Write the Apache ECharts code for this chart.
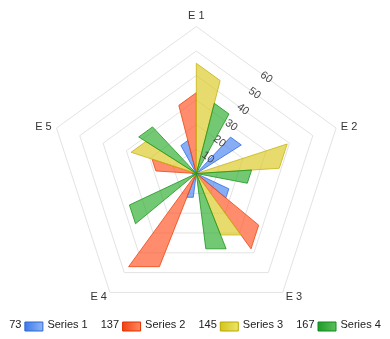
<!DOCTYPE html>
<html>
<head>
<meta charset="utf-8">
<script src="https://cdn.jsdelivr.net/npm/echarts@6/dist/echarts.min.js"></script>
<style>
  html, body { margin: 0; padding: 0; background: #fff; }
  #chart { width: 390px; height: 339px; }
</style>
</head>
<body>
<div id="chart"></div>
<script>
// Categories around the pentagon (clockwise from the top)
const categories = ['E 1', 'E 2', 'E 3', 'E 4', 'E 5'];
const seriesNames = ['Series 1', 'Series 2', 'Series 3', 'Series 4'];

// Values per category
const series1 = [16, 25, 18, 12, 2];
const series2 = [33, 0, 38, 47, 19];
const series3 = [45, 39, 31, 2, 28];
const series4 = [34, 26, 38, 37, 32];
const seriesValues = [series1, series2, series3, series4];

// Radial scale
const radiusMin = 0;
const radiusMax = 60;
const radiusStep = 10;

const fills = ['rgba(70,130,240,0.65)', 'rgba(255,80,30,0.65)', 'rgba(220,200,30,0.65)', 'rgba(40,170,40,0.65)'];
const strokes = ['rgba(50,110,230,0.8)', 'rgba(235,70,20,0.8)', 'rgba(200,180,20,0.8)', 'rgba(30,150,30,0.8)'];
const swatch = [
  ['#3b78e7', '#90b6f8', '#2f66d0'],
  ['#f04010', '#ff8c60', '#e03000'],
  ['#d4c418', '#ece56e', '#b8a800'],
  ['#1e9a28', '#5cc05c', '#138a1e']
];

const n = categories.length;
const center = [196.3, 173.5];
const outerRadius = 147;
const halfSector = Math.PI / n;

// Columns whose outer edge follows the polygonal grid
function makeRenderItem(k) {
  return function (params, api) {
    const v = api.value(0);
    const ci = api.value(1);
    if (!v) return null;
    const c = api.coord([radiusMin, ci]);
    const e = api.coord([radiusMax, ci]);
    const p = api.coord([v, ci]);
    const rv = Math.hypot(p[0] - c[0], p[1] - c[1]);
    const phi = Math.atan2(e[1] - c[1], e[0] - c[0]);
    const band = 2 * halfSector;
    const w = band * 0.8 / seriesValues.length;
    const a0 = -0.4 * band + k * w;
    const a1 = a0 + w;
    const pt = function (d) {
      const rr = rv * Math.cos(halfSector) / Math.cos(halfSector - Math.abs(d));
      return [c[0] + rr * Math.cos(phi + d), c[1] + rr * Math.sin(phi + d)];
    };
    return {
      type: 'polygon',
      shape: { points: [c, pt(a0), pt(a1)] },
      style: { fill: fills[k], stroke: strokes[k], lineWidth: 1 }
    };
  };
}

// Legend row: total, swatch, name
const legendFont = '11px "Liberation Sans", Arial, sans-serif';
const ctx = document.createElement('canvas').getContext('2d');
ctx.font = legendFont;
const tw = s => ctx.measureText(s).width;
const totals = seriesValues.map(a => a.reduce((s, x) => s + x, 0));
const gapNum = 3, swW = 18, swH = 9, gapSw = 5, gapItem = 13;
let totalW = 0;
seriesNames.forEach((nm, k) => {
  totalW += tw(String(totals[k])) + gapNum + swW + gapSw + tw(nm);
  if (k < seriesNames.length - 1) totalW += gapItem;
});
const legendY = 326;
let lx = (390 - totalW) / 2;
const legendEls = [];
seriesNames.forEach((nm, k) => {
  const t = String(totals[k]);
  legendEls.push({ type: 'text', left: lx, top: legendY - 6.5,
    style: { text: t, font: legendFont, fill: '#222' } });
  lx += tw(t) + gapNum;
  legendEls.push({ type: 'rect', left: lx, top: legendY - swH / 2,
    shape: { width: swW, height: swH },
    style: {
      fill: new echarts.graphic.LinearGradient(0, 0, 1, 0, [
        { offset: 0, color: swatch[k][0] }, { offset: 1, color: swatch[k][1] }
      ]),
      stroke: swatch[k][2], lineWidth: 1
    } });
  lx += swW + gapSw;
  legendEls.push({ type: 'text', left: lx, top: legendY - 6.5,
    style: { text: nm, font: legendFont, fill: '#222' } });
  lx += tw(nm) + gapItem;
});

const radarOrder = [0].concat(categories.slice(1).map((_, i) => n - 1 - i));

const chart = echarts.init(document.getElementById('chart'), null, { renderer: 'canvas' });
chart.setOption({
  backgroundColor: '#fff',
  animation: false,
  radar: {
    z: 1,
    center: center,
    radius: outerRadius,
    startAngle: 90,
    shape: 'polygon',
    splitNumber: (radiusMax - radiusMin) / radiusStep,
    nameGap: 5,
    axisName: { color: '#333', fontSize: 11, fontFamily: '"Liberation Sans", Arial, sans-serif' },
    indicator: radarOrder.map(i => ({ name: categories[i], min: radiusMin, max: radiusMax })),
    axisLine: { show: false },
    axisTick: { show: false },
    axisLabel: { show: false },
    splitArea: { show: false },
    splitLine: { lineStyle: { color: '#e3e3e3', width: 1 } }
  },
  polar: [
    { center: center, radius: outerRadius },
    { center: center, radius: outerRadius * Math.cos(halfSector) }
  ],
  angleAxis: [
    { polarIndex: 0, type: 'category', data: categories, startAngle: 90 + 180 / n,
      clockwise: true, boundaryGap: true, show: false },
    { polarIndex: 1, type: 'value', min: 0, max: 360, startAngle: 90 - 180 / n, show: false }
  ],
  radiusAxis: [
    { polarIndex: 0, min: radiusMin, max: radiusMax, show: false },
    { polarIndex: 1, z: 10, min: radiusMin, max: radiusMax, interval: radiusStep,
      axisLine: { show: false }, axisTick: { show: false }, splitLine: { show: false },
      axisLabel: { rotate: -36, margin: 0, align: 'center', verticalAlign: 'middle',
        showMinLabel: false, color: '#444', fontSize: 11,
        fontFamily: '"Liberation Sans", Arial, sans-serif' } }
  ],
  series: seriesNames.map((name, k) => ({
    type: 'custom',
    name: name,
    coordinateSystem: 'polar',
    polarIndex: 0,
    z: 2,
    encode: { radius: 0, angle: 1 },
    data: seriesValues[k].map((v, i) => [v, i]),
    renderItem: makeRenderItem(k)
  })),
  graphic: legendEls
});
</script>
</body>
</html>
